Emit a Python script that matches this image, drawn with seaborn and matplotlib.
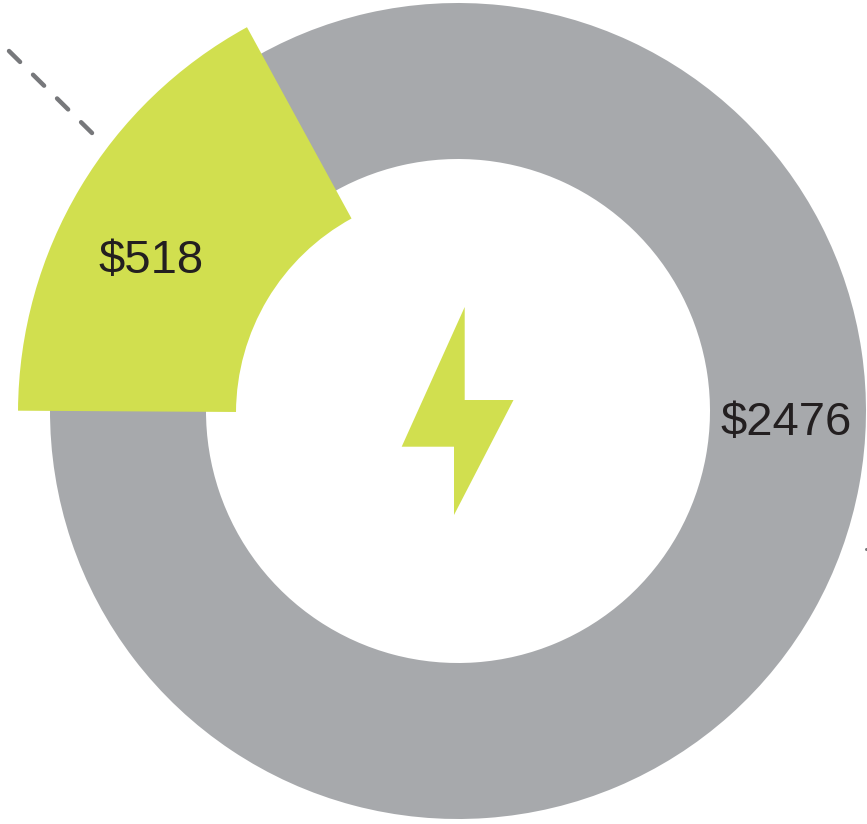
import matplotlib
matplotlib.use("Agg")
import matplotlib.pyplot as plt
import seaborn as sns

# Chart values
labels = ['$518', '$2476']
# Arc sizes in degrees as drawn in the picture (slightly off the dollar ratio)
arc_degrees = [61, 299]
# Grey ring runs a little under the green slice so no gap shows
ring_degrees = [58, 302]
colors = ['#d1df4f', '#a7a9ac']

# Lightning bolt icon and the dashed leader, in pixels of the original picture
bolt_x = [464.7, 464.7, 513.5, 454, 454, 401.7]
bolt_y = [307, 400, 400, 515, 446.7, 446.7]
dash_x = [9, 92]
dash_y = [51, 133]

W, H = 867, 824
CX = 458
RING_Y = H - 411
SLICE_Y = H - 413.3

sns.set_theme(style="white")
plt.rcParams['font.family'] = ['Liberation Sans', 'DejaVu Sans']
palette = sns.color_palette(colors)

fig = plt.figure(figsize=(W / 100, H / 100), dpi=100)
ax = fig.add_axes([0, 0, 1, 1])

# Grey ring, then the green slice pulled out wider on top of it
ax.pie(ring_degrees, colors=['none', palette[1]], startangle=179.66, counterclock=False,
       center=(CX, RING_Y), radius=408, wedgeprops=dict(width=156, linewidth=0))
ax.pie(arc_degrees, colors=[palette[0], 'none'], startangle=179.66, counterclock=False,
       center=(CX, SLICE_Y), radius=440, wedgeprops=dict(width=218, linewidth=0))

ax.set_xlim(0, W)
ax.set_ylim(0, H)
ax.set_aspect('equal')
ax.axis('off')

# Value labels
ax.text(151.5, H - 261, labels[0], fontsize=34, color='#231f20', ha='center', va='center')
ax.text(786, H - 423, labels[1], fontsize=34, color='#231f20', ha='center', va='center')

# Bolt icon
ax.fill(bolt_x, [H - y for y in bolt_y], color=palette[0], linewidth=0)

# Dashed leader and the little bit of it showing at the right edge
ax.plot(dash_x, [H - y for y in dash_y], color='#77787b', linewidth=3.2,
        dashes=(3.5, 4.1), dash_capstyle='round')
ax.plot([866, 867], [H - 549, H - 549], color='#77787b', linewidth=2.2)

fig.savefig('out.png', dpi=100, facecolor='white')
